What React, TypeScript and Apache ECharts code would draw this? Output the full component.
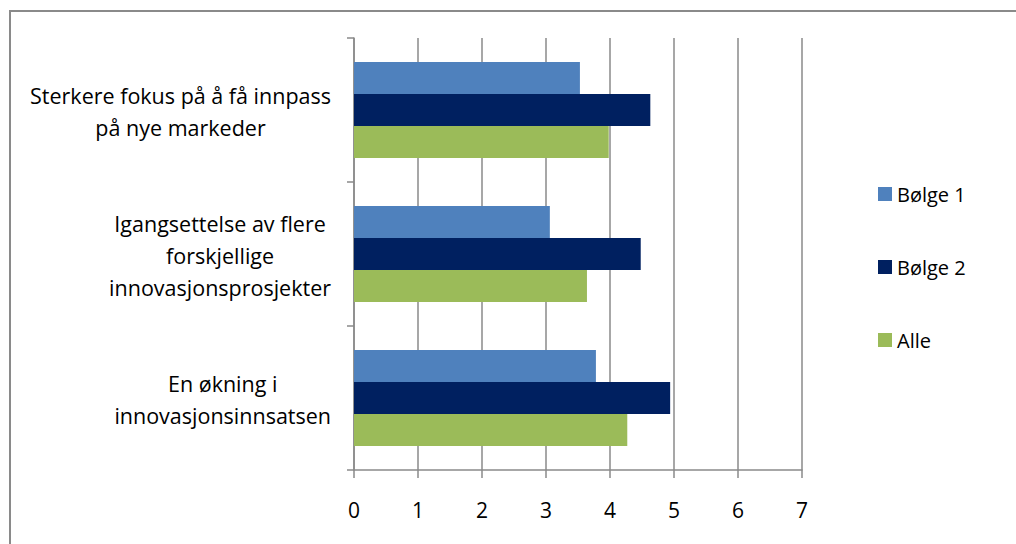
import React, { useEffect, useRef } from "react";
import * as echarts from "echarts";

// Categories (top to bottom as shown)
const categories = [
  "Sterkere fokus på å få innpass\npå nye markeder",
  "Igangsettelse av flere\nforskjellige\ninnovasjonsprosjekter",
  "En økning i\ninnovasjonsinnsatsen",
];

const seriesNames = ["Bølge 1", "Bølge 2", "Alle"];
const bolge1 = [3.53, 3.06, 3.78];
const bolge2 = [4.63, 4.48, 4.94];
const alle = [3.98, 3.64, 4.27];
const seriesColors = ["#4F81BD", "#002060", "#9BBB59"];

const FONT = "Open Sans";
const FS = 21.5;

export default function App() {
  const ref = useRef<HTMLDivElement>(null);

  useEffect(() => {
    if (!ref.current) return;
    const chart = echarts.init(ref.current, undefined, { renderer: "svg" });
    const values = [bolge1, bolge2, alle];
    chart.setOption({
      animation: false,
      backgroundColor: "#ffffff",
      textStyle: { fontFamily: FONT },
      graphic: [
        {
          type: "rect",
          shape: { x: 10, y: 11, width: 1020, height: 560 },
          style: { fill: "none", stroke: "#8a8a8a", lineWidth: 2 },
          silent: true,
        },
      ],
      legend: {
        orient: "vertical",
        left: 873,
        top: 178,
        itemWidth: 14,
        itemHeight: 14,
        itemGap: 51,
        icon: "rect",
        textStyle: { fontFamily: FONT, fontSize: 20, lineHeight: 22, color: "#000" },
        data: seriesNames,
      },
      grid: { left: 354, right: 214, top: 38, bottom: 74 },
      xAxis: {
        type: "value",
        min: 0,
        max: 7,
        interval: 1,
        axisLine: { show: true, lineStyle: { color: "#8a8a8a", width: 1.5 } },
        axisTick: { show: true, length: 8, lineStyle: { color: "#8a8a8a", width: 1.5 } },
        splitLine: { show: true, lineStyle: { color: "#8a8a8a", width: 1.5 } },
        axisLabel: { color: "#000", fontFamily: FONT, fontSize: 21, margin: 29 },
      },
      yAxis: {
        type: "category",
        inverse: true,
        data: categories,
        axisLine: { show: true, lineStyle: { color: "#8a8a8a", width: 1.5 } },
        axisTick: { show: true, length: 7, lineStyle: { color: "#8a8a8a", width: 1.5 } },
        axisLabel: {
          margin: 23,
          align: "right",
          color: "#000",
          fontFamily: FONT,
          fontSize: FS,
          lineHeight: 32,
          formatter: (v: string) =>
            v
              .split("\n")
              .map((l) => `{c|${l}}`)
              .join("\n"),
          rich: {
            c: { align: "center", fontFamily: FONT, fontSize: FS, lineHeight: 32, color: "#000", padding: [2, 0, 0, 0] },
          },
        },
      },
      series: seriesNames.map((name, i) => ({
        name,
        type: "bar",
        data: values[i],
        barGap: "0%",
        barCategoryGap: "33.3%",
        itemStyle: { color: seriesColors[i] },
      })),
    });
    return () => chart.dispose();
  }, []);

  return (
    <div
      ref={ref}
      style={{ position: "fixed", left: 0, top: 0, width: 1016, height: 544 }}
    />
  );
}
